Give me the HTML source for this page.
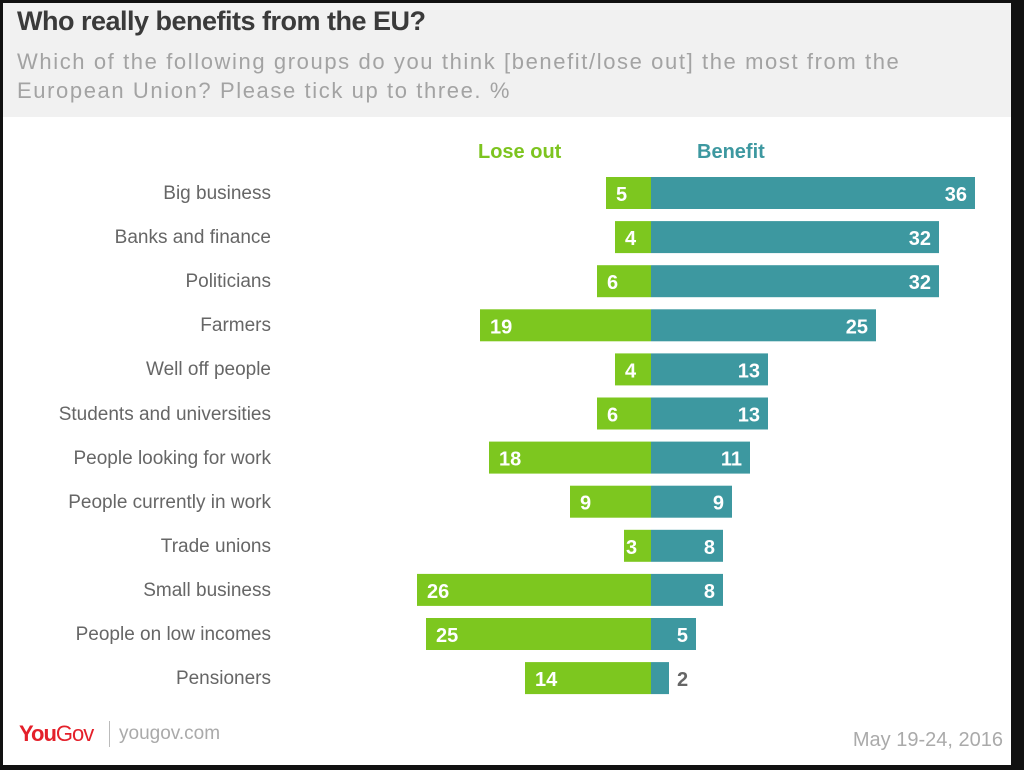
<!DOCTYPE html>
<html><head><meta charset="utf-8"><style>
body{margin:0;background:#111;}
#frame{position:absolute;left:3px;top:3px;width:1008px;height:762px;background:#fff;overflow:hidden;font-family:"Liberation Sans",sans-serif;}
#hdr{position:absolute;left:0;top:0;width:1008px;height:114px;background:#f1f1f1;}
#title{position:absolute;left:14px;top:3px;font-size:27px;font-weight:bold;color:#3a3a3a;letter-spacing:-0.5px;}
#sub{position:absolute;left:14px;top:44px;font-size:22px;color:#a3a3a3;line-height:29px;width:990px;white-space:nowrap;letter-spacing:1.6px;}
.lbl{position:absolute;right:740px;font-size:19px;color:#666;text-align:right;white-space:nowrap;}
.leg{position:absolute;top:138px;font-size:20px;font-weight:bold;}
svg text{font-family:"Liberation Sans",sans-serif;font-weight:bold;font-size:20px;}
</style></head><body>
<div id="frame">
<div id="hdr">
<div id="title">Who really benefits from the EU?</div>
<div id="sub">Which of the following groups do you think [benefit/lose out] the most from the<br>European Union? Please tick up to three. %</div>
</div>
<div class="leg" style="left:475px;color:#7dc41f">Lose out</div>
<div class="leg" style="left:694px;color:#3d98a0">Benefit</div>
<div id="labels"></div>
<svg id="chart" width="1008" height="762" style="position:absolute;left:0;top:0"></svg>
<div style="position:absolute;left:16px;top:718px;font-size:22px;font-weight:bold;letter-spacing:-1px"><span style="color:#e4202a">You</span><span style="color:#e4202a;font-weight:normal">Gov</span></div>
<div style="position:absolute;left:106px;top:718px;width:1px;height:26px;background:#bbb"></div>
<div style="position:absolute;left:116px;top:720px;font-size:19px;color:#aaa">yougov.com</div>
<div style="position:absolute;right:8px;top:726px;font-size:20px;color:#aaa">May 19-24, 2016</div>
</div>
<script>
const categories=["Big business","Banks and finance","Politicians","Farmers","Well off people","Students and universities","People looking for work","People currently in work","Trade unions","Small business","People on low incomes","Pensioners"];
const loseOut=[5,4,6,19,4,6,18,9,3,26,25,14];
const benefit=[36,32,32,25,13,13,11,9,8,8,5,2];
const cx=648, scale=9, y0=174, step=44.1, bh=32;
const xs=v=>v*scale;
const svg=document.getElementById('chart'), NS='http://www.w3.org/2000/svg';
const labels=document.getElementById('labels');
categories.forEach((c,i)=>{
  const top=y0+i*step;
  const d=document.createElement('div');
  d.className='lbl';d.style.top=(top+6)+'px';d.textContent=c;
  
  
  labels.appendChild(d);
  const r1=document.createElementNS(NS,'rect');
  r1.setAttribute('x',cx-xs(loseOut[i]));r1.setAttribute('y',top);r1.setAttribute('width',xs(loseOut[i]));r1.setAttribute('height',bh);r1.setAttribute('fill','#7dc71f');
  
  
  svg.appendChild(r1);
  const r2=document.createElementNS(NS,'rect');
  r2.setAttribute('x',cx);r2.setAttribute('y',top);r2.setAttribute('width',xs(benefit[i]));r2.setAttribute('height',bh);r2.setAttribute('fill','#3d98a0');
  
  
  svg.appendChild(r2);
  const t1=document.createElementNS(NS,'text');
  t1.setAttribute('x',cx-xs(loseOut[i])+10);t1.setAttribute('y',top+24);t1.setAttribute('fill','#fff');t1.textContent=loseOut[i];
  if(loseOut[i]<4){t1.setAttribute('x',cx-xs(loseOut[i])+2);}
  
  
  svg.appendChild(t1);
  const t2=document.createElementNS(NS,'text');
  const w=xs(benefit[i]);
  if(w>30){t2.setAttribute('x',cx+w-8);t2.setAttribute('text-anchor','end');t2.setAttribute('fill','#fff');}
  else{t2.setAttribute('x',cx+w+8);t2.setAttribute('fill','#666');t2.setAttribute('font-size','18');}
  t2.setAttribute('y',top+24);t2.textContent=benefit[i];
  
  
  svg.appendChild(t2);
});
</script>
</body></html>
